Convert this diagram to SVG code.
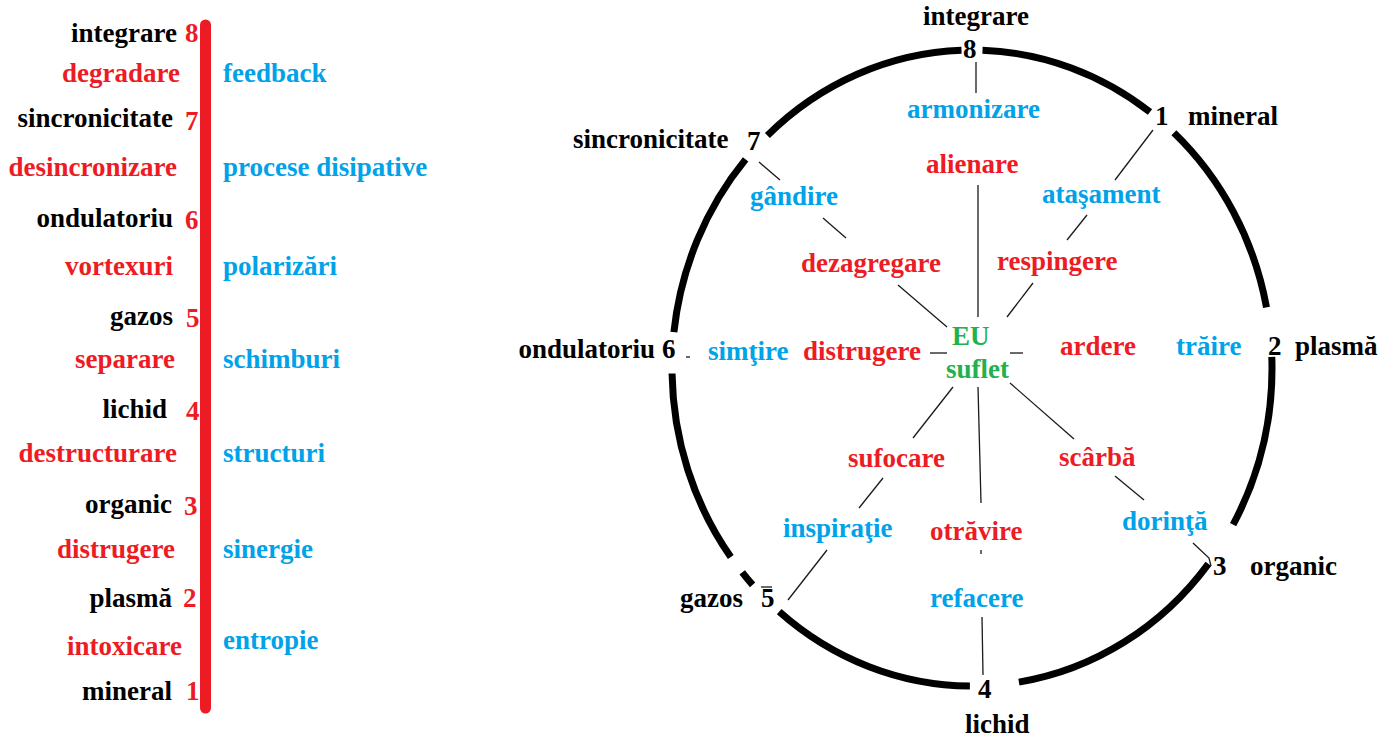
<svg xmlns="http://www.w3.org/2000/svg" width="1388" height="740" viewBox="0 0 1388 740">
  <style>
    text { font-family: "Liberation Serif", "Times New Roman", serif; font-weight: bold; font-size: 27px; }
    .k { fill: #000000; }
    .r { fill: #ed1c24; }
    .b { fill: #00a2e8; }
    .g { fill: #22b14c; }
    .end { text-anchor: end; }
    .ring { fill: none; stroke: #000000; stroke-width: 7; }
    .link { stroke: #1a1a1a; stroke-width: 1.3; fill: none; }
  </style>
  <rect width="1388" height="740" fill="#ffffff"/>

  <!-- scale bar on the left -->
  <g id="scale">
    <line x1="205.5" y1="25" x2="205.5" y2="708" stroke="#ed1c24" stroke-width="11" stroke-linecap="round"/>
    <g id="level-8">
      <text class="k end" x="177" y="42">integrare</text>
      <text class="r" x="185" y="42">8</text>
    </g>
    <g id="band-8-7">
      <text class="r end" x="180" y="82">degradare</text>
      <text class="b" x="223" y="82">feedback</text>
    </g>
    <g id="level-7">
      <text class="k end" x="173" y="127">sincronicitate</text>
      <text class="r" x="185" y="130">7</text>
    </g>
    <g id="band-7-6">
      <text class="r end" x="177" y="176">desincronizare</text>
      <text class="b" x="223" y="176">procese disipative</text>
    </g>
    <g id="level-6">
      <text class="k end" x="173" y="227">ondulatoriu</text>
      <text class="r" x="185" y="229">6</text>
    </g>
    <g id="band-6-5">
      <text class="r end" x="173" y="275">vortexuri</text>
      <text class="b" x="223" y="275">polarizări</text>
    </g>
    <g id="level-5">
      <text class="k end" x="173" y="325">gazos</text>
      <text class="r" x="186" y="327">5</text>
    </g>
    <g id="band-5-4">
      <text class="r end" x="175" y="368">separare</text>
      <text class="b" x="223" y="368">schimburi</text>
    </g>
    <g id="level-4">
      <text class="k end" x="167" y="418">lichid</text>
      <text class="r" x="186" y="420">4</text>
    </g>
    <g id="band-4-3">
      <text class="r end" x="177" y="462">destructurare</text>
      <text class="b" x="223" y="462">structuri</text>
    </g>
    <g id="level-3">
      <text class="k end" x="172" y="513">organic</text>
      <text class="r" x="184" y="515">3</text>
    </g>
    <g id="band-3-2">
      <text class="r end" x="175" y="558">distrugere</text>
      <text class="b" x="223" y="558">sinergie</text>
    </g>
    <g id="level-2">
      <text class="k end" x="172" y="607">plasmă</text>
      <text class="r" x="183" y="607">2</text>
    </g>
    <g id="band-2-1">
      <text class="r end" x="182" y="655">intoxicare</text>
      <text class="b" x="223" y="649">entropie</text>
    </g>
    <g id="level-1">
      <text class="k end" x="172" y="700">mineral</text>
      <text class="r" x="186" y="700">1</text>
    </g>
  </g>

  <!-- outer ring, broken at each numbered station -->
  <g id="ring">
    <path class="ring" d="M982.5 50.2 A300 318 0 0 1 1150 112"/>
    <path class="ring" d="M1173.9 132.8 A300 318 0 0 1 1266.5 307.3"/>
    <path class="ring" d="M1271.8 356.9 A300 318 0 0 1 1233.1 524.6"/>
    <path class="ring" d="M1208.4 563.8 A300 318 0 0 1 1018.9 682.1"/>
    <path class="ring" d="M969.9 686 A300 318 0 0 1 779.2 611.6"/>
    <path class="ring" d="M752.6 584.9 A300 318 0 0 1 742.2 572.4"/>
    <path class="ring" d="M730.8 557.1 A300 318 0 0 1 672.05 373.5"/>
    <path class="ring" d="M673.9 332 A300 318 0 0 1 745.6 159.4"/>
    <path class="ring" d="M767.4 135.4 A300 318 0 0 1 961.5 50.2"/>
  </g>

  <!-- spokes between centre, intermediate labels and stations -->
  <g id="connectors">
    <line class="link" x1="976" y1="62" x2="976" y2="93"/>
    <line class="link" x1="978" y1="185" x2="978" y2="317"/>
    <line class="link" x1="1153" y1="130" x2="1115" y2="180"/>
    <line class="link" x1="1087" y1="215" x2="1067" y2="240"/>
    <line class="link" x1="1033" y1="283" x2="1007" y2="317"/>
    <line class="link" x1="1010" y1="353" x2="1023" y2="353"/>
    <line class="link" x1="759" y1="162" x2="780" y2="180"/>
    <line class="link" x1="823" y1="218" x2="846" y2="238"/>
    <line class="link" x1="898" y1="285" x2="947" y2="327"/>
    <line class="link" x1="930" y1="353" x2="947" y2="353"/>
    <line class="link" x1="686" y1="357" x2="690" y2="357"/>
    <line class="link" x1="953" y1="387" x2="913" y2="438"/>
    <line class="link" x1="883" y1="478" x2="859" y2="508"/>
    <line class="link" x1="827" y1="550" x2="788" y2="600"/>
    <line class="link" x1="978" y1="387" x2="981" y2="503"/>
    <line class="link" x1="981" y1="550" x2="981" y2="554"/>
    <line class="link" x1="982" y1="617" x2="983" y2="675"/>
    <line class="link" x1="1010" y1="383" x2="1074" y2="439"/>
    <line class="link" x1="1115" y1="476" x2="1144" y2="500"/>
    <polyline class="link" points="1193,543 1209,558 1211,566"/>
    <line class="link" x1="761" y1="587" x2="772" y2="587"/>
  </g>

  <g id="station-8">
    <text class="k" x="923" y="25">integrare</text>
    <text class="k" x="963" y="58">8</text>
  </g>
  <g id="station-1">
    <text class="k" x="1155" y="125">1</text>
    <text class="k" x="1188" y="125">mineral</text>
  </g>
  <g id="station-2">
    <text class="k" x="1268" y="355">2</text>
    <text class="k" x="1295" y="355">plasmă</text>
  </g>
  <g id="station-3">
    <text class="k" x="1213" y="575">3</text>
    <text class="k" x="1250" y="575">organic</text>
  </g>
  <g id="station-4">
    <text class="k" x="978" y="698">4</text>
    <text class="k" x="965" y="733">lichid</text>
  </g>
  <g id="station-5">
    <text class="k" x="680" y="607">gazos</text>
    <text class="k" x="761" y="607">5</text>
  </g>
  <g id="station-6">
    <text class="k end" x="655" y="358">ondulatoriu</text>
    <text class="k" x="662" y="358">6</text>
  </g>
  <g id="station-7">
    <text class="k" x="573" y="148">sincronicitate</text>
    <text class="k" x="747" y="150">7</text>
  </g>

  <g id="centre">
    <text class="g" x="952" y="345">EU</text>
    <text class="g" x="946" y="378">suflet</text>
  </g>

  <g id="spoke-8">
    <text class="b" x="907" y="118">armonizare</text>
    <text class="r" x="926" y="173">alienare</text>
  </g>
  <g id="spoke-1">
    <text class="b" x="1042" y="203">ataşament</text>
    <text class="r" x="997" y="270">respingere</text>
  </g>
  <g id="spoke-2">
    <text class="r" x="1060" y="355">ardere</text>
    <text class="b" x="1176" y="355">trăire</text>
  </g>
  <g id="spoke-3">
    <text class="r" x="1059" y="466">scârbă</text>
    <text class="b" x="1122" y="530">dorinţă</text>
  </g>
  <g id="spoke-4">
    <text class="r" x="930" y="540">otrăvire</text>
    <text class="b" x="930" y="607">refacere</text>
  </g>
  <g id="spoke-5">
    <text class="r" x="848" y="467">sufocare</text>
    <text class="b" x="783" y="537">inspiraţie</text>
  </g>
  <g id="spoke-6">
    <text class="b" x="708" y="360">simţire</text>
    <text class="r" x="803" y="360">distrugere</text>
  </g>
  <g id="spoke-7">
    <text class="b" x="750" y="205">gândire</text>
    <text class="r" x="801" y="272">dezagregare</text>
  </g>
</svg>
